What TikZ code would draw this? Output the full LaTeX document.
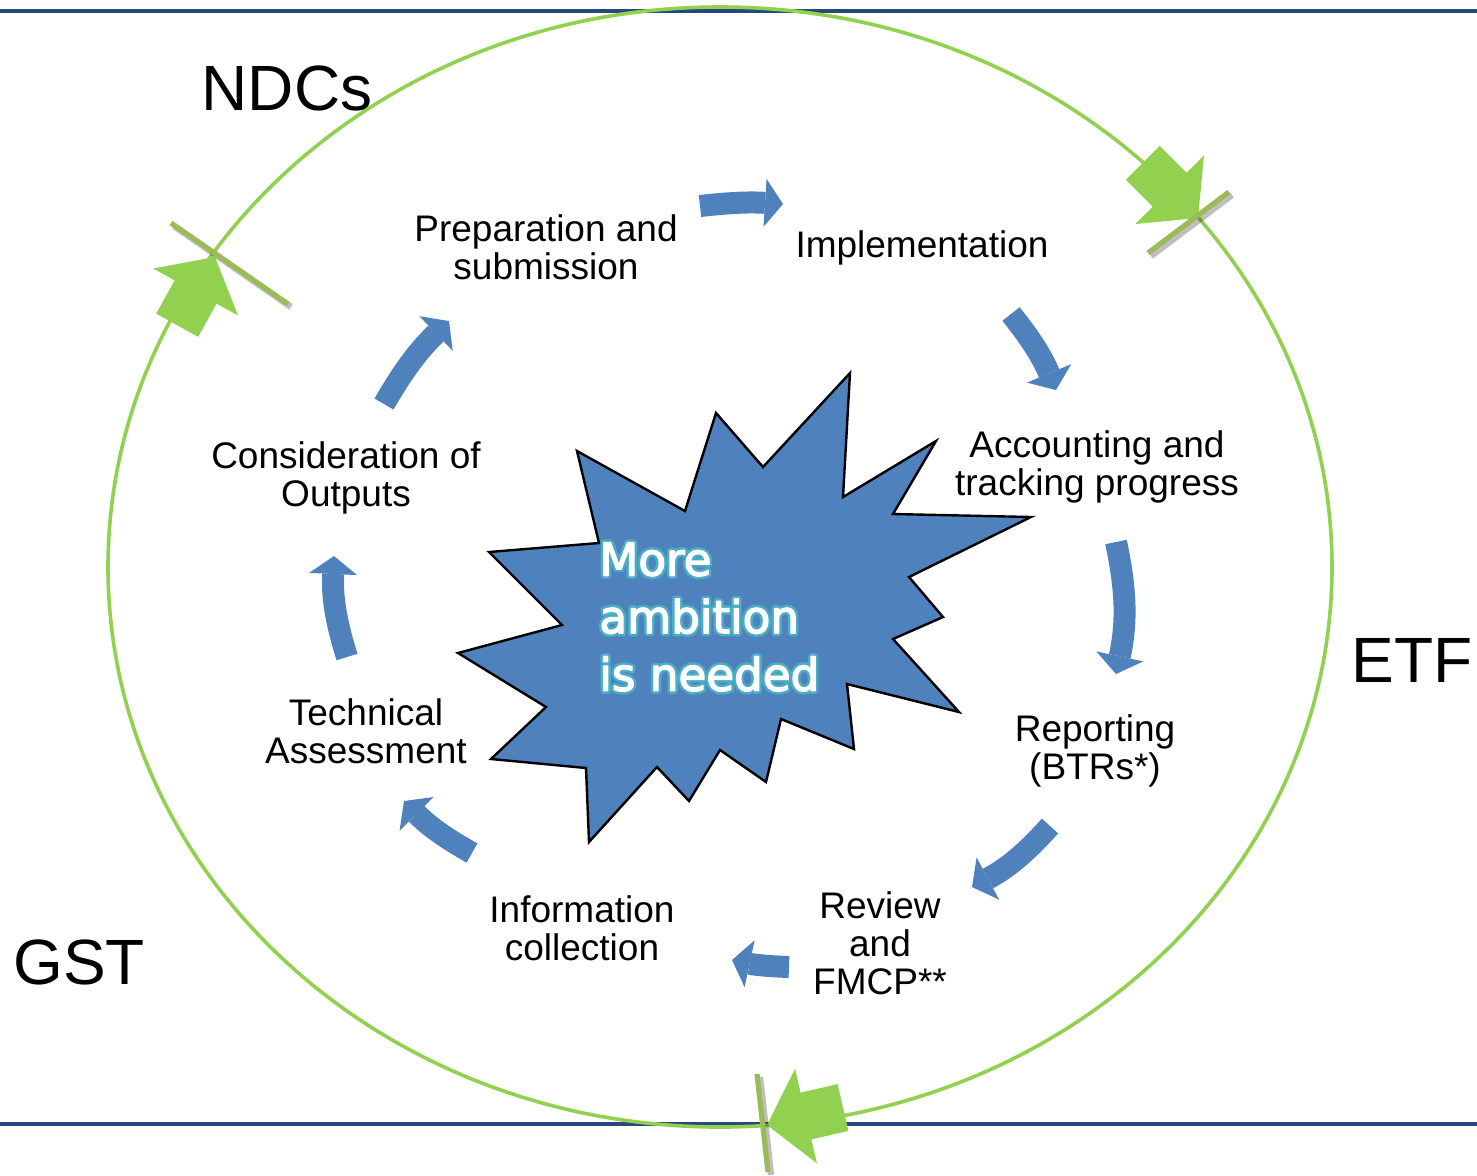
\documentclass[tikz,border=0pt]{standalone}
\usepackage{fontspec}
\setmainfont{Liberation Sans}
\newfontfamily\burstfont{DejaVu Sans}
\usetikzlibrary{arrows.meta}

\definecolor{ringgreen}{RGB}{146,208,80}
\definecolor{barolive}{RGB}{155,187,89}
\definecolor{flowblue}{RGB}{79,129,189}
\definecolor{rulenavy}{RGB}{37,72,125}

% white letters with a teal rim
\newcommand\glowline[1]{\rlap{\special{pdf:literal direct 1 Tr 3.2 w 1 j 0.294 0.675 0.776 RG}#1}\special{pdf:literal direct 2 Tr 0.7 w 1 1 1 RG}#1\special{pdf:literal direct 0 Tr}}

\begin{document}
\begin{tikzpicture}[x=0.5pt, y=-0.5pt]
    \tikzset{
        rule/.style={draw=rulenavy, line width=1.6pt},
        ring/.style={draw=ringgreen, line width=1.8pt},
        crossbar/.style={draw=barolive, line width=2.6pt},
        barshadow/.style={draw=black, opacity=.25, line width=3.2pt},
        flow/.style={
            draw=flowblue, line width=11pt,
            -{Triangle[length=9pt, width=24pt, line width=0pt]},
        },
        burst/.style={draw=black, line width=1.2pt, fill=flowblue, line join=miter},
        stagelabel/.style={font=\fontsize{18.5}{19}\selectfont, align=center, inner sep=0pt},
        bigtitle/.style={font=\fontsize{32}{36}\selectfont, inner sep=0pt},
        bursttext/.style={
            font=\burstfont\fontsize{22.6}{28.8}\selectfont,
            text=white, align=left, inner sep=0pt,
        },
        pics/blockarrow/.style={
            code={
                \fill[ringgreen] (0,0) -- (-40,-48.5) -- (-40,-24) -- (-78,-24)
                    -- (-78,24) -- (-40,24) -- (-40,48.5) -- cycle;
            },
        },
    }
    \useasboundingbox (0,0) rectangle (1477,1175);

    % Frame lines and the outer cycle
    \draw[rule] (0,11) -- (1477,11);
    \draw[rule] (0,1124) -- (1477,1124);
    \draw[ring] (720,567) ellipse [x radius=612, y radius=560];

    % Stage marks on the outer cycle
    \coordinate (etftip) at (1198,218);
    \coordinate (ndctip) at (215,257);
    \coordinate (gsttip) at (767,1125);
    \pic[shift={(etftip)}, rotate=-45] {blockarrow};
    \pic[shift={(ndctip)}, rotate=61] {blockarrow};
    \pic[shift={(gsttip)}, rotate=193] {blockarrow};

    \coordinate (etfbarA) at (1148,253);
    \coordinate (etfbarB) at (1229,192);
    \coordinate (ndcbarA) at (171,223);
    \coordinate (ndcbarB) at (288,304);
    \coordinate (gstbarA) at (757,1074);
    \coordinate (gstbarB) at (768,1172);
    \foreach \b in {etf,ndc,gst} {
        \draw[barshadow, transform canvas={xshift=1.5pt, yshift=-1.5pt}] (\b barA) -- (\b barB);
        \draw[crossbar] (\b barA) -- (\b barB);
    }

    \node[bigtitle] (ndcs) at (287,88) {NDCs};
    \node[bigtitle] (etf) at (1412,660) {ETF};
    \node[bigtitle] (gst) at (79,962) {GST};

    % Inner cycle
    \node[stagelabel] (prep) at (546,247) {Preparation and\\submission};
    \node[stagelabel] (impl) at (922,248) {Implementation};
    \node[stagelabel] (acct) at (1097,467) {Accounting and\\tracking progress};
    \node[stagelabel] (report) at (1095,751) {Reporting\\(BTRs*)};
    \node[stagelabel] (review) at (880,943) {Review\\and\\FMCP**};
    \node[stagelabel] (info) at (582,928) {Information\\collection};
    \node[stagelabel] (techassess) at (366,731) {Technical\\Assessment};
    \node[stagelabel] (consider) at (346,478) {Consideration of\\Outputs};

    \coordinate (f1s) at (700,206);   \coordinate (f1e) at (783,204);
    \coordinate (f2s) at (1011,314);  \coordinate (f2e) at (1056,390);
    \coordinate (f3s) at (1116,542);  \coordinate (f3e) at (1116,674);
    \coordinate (f4s) at (1050,826);  \coordinate (f4e) at (972,887);
    \coordinate (f5s) at (789,967);   \coordinate (f5e) at (732,960);
    \coordinate (f6s) at (472,853);   \coordinate (f6e) at (404,801);
    \coordinate (f7s) at (347,657);   \coordinate (f7e) at (334,556);
    \coordinate (f8s) at (384,404);   \coordinate (f8e) at (449,321);
    \draw[flow] (f1s) to[bend left=5] (f1e);
    \draw[flow] (f2s) to[bend left=8] (f2e);
    \draw[flow] (f3s) to[bend left=12] (f3e);
    \draw[flow] (f4s) to[bend left=10] (f4e);
    \draw[flow] (f5s) to[bend left=5] (f5e);
    \draw[flow] (f6s) to[bend left=8] (f6e);
    \draw[flow] (f7s) to[bend left=10] (f7e);
    \draw[flow] (f8s) to[bend left=8] (f8e);

    % Centre
    \draw[burst] (850,373) -- (843,497) -- (936,441) -- (893,514) -- (1031,517)
        -- (909,577) -- (943,617) -- (893,639) -- (959,712) -- (847,684)
        -- (854,749) -- (781,719) -- (766,782) -- (720,750) -- (689,801)
        -- (657,767) -- (589,842) -- (586,768) -- (491,759) -- (546,707)
        -- (458,653) -- (562,625) -- (489,552) -- (599,543) -- (577,451)
        -- (685,511) -- (716,413) -- (763,467) -- cycle;
    \node[bursttext, anchor=west] (ambition) at (599,617)
        {\glowline{More}\\\glowline{ambition}\\\glowline{is needed}};
\end{tikzpicture}
\end{document}
